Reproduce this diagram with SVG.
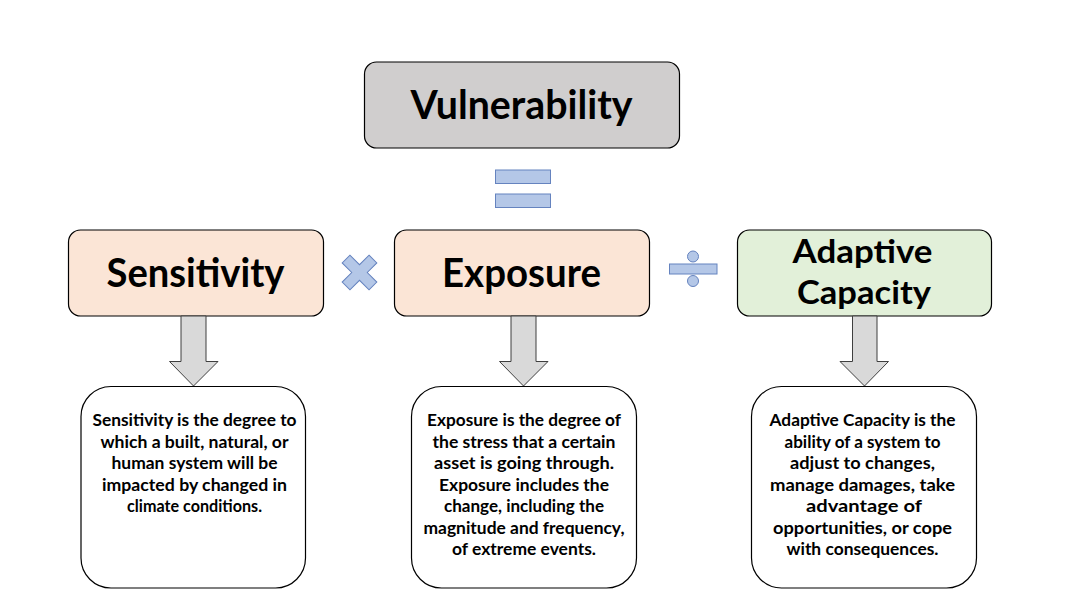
<svg xmlns="http://www.w3.org/2000/svg" width="1070" height="597" viewBox="0 0 1070 597">
<style>
.hd{font-family:Lato,"Liberation Sans",sans-serif;font-weight:bold;fill:#000;text-anchor:middle}
.bd{font-family:Lato,"Liberation Sans",sans-serif;font-weight:bold;font-size:17px;fill:#000;text-anchor:middle}
.top{stroke:#000;stroke-width:1.2}
.desc{fill:#fff;stroke:#000;stroke-width:1.2}
.op{fill:#b4c7e7;stroke:#6583bf;stroke-width:1}
.arr{fill:#d9d9d9;stroke:#3f3f3f;stroke-width:1}
</style>
<rect width="1070" height="597" fill="#fff"/>
<g id="vulnerability">
<rect class="top" x="364.5" y="62" width="315" height="86" rx="12" fill="#d0cece"/>
<text class="hd" x="521.5" y="118.5" font-size="41" textLength="222" lengthAdjust="spacingAndGlyphs">Vulnerability</text>
</g>
<g id="equals">
<rect class="op" x="495.5" y="170" width="55" height="13.5"/>
<rect class="op" x="495.5" y="194" width="55" height="13.5"/>
</g>
<g id="sensitivity">
<rect class="top" x="68.5" y="230" width="255" height="86" rx="12" fill="#fbe5d6"/>
<text class="hd" x="195.5" y="286.5" font-size="40" textLength="178" lengthAdjust="spacingAndGlyphs">Sensitivity</text>
</g>
<g id="times">
<polygon class="op" transform="translate(359.5 272.5) rotate(45)" points="-5.5,-19 5.5,-19 5.5,-5.5 19,-5.5 19,5.5 5.5,5.5 5.5,19 -5.5,19 -5.5,5.5 -19,5.5 -19,-5.5 -5.5,-5.5"/>
</g>
<g id="exposure">
<rect class="top" x="394.5" y="230" width="255" height="86" rx="12" fill="#fbe5d6"/>
<text class="hd" x="521.5" y="286.5" font-size="40" textLength="159" lengthAdjust="spacingAndGlyphs">Exposure</text>
</g>
<g id="divide">
<circle class="op" cx="693" cy="256.5" r="5.5"/>
<rect class="op" x="669.5" y="264" width="47.5" height="10"/>
<circle class="op" cx="693" cy="281" r="5.5"/>
</g>
<g id="adaptive-capacity">
<rect class="top" x="737.5" y="230" width="254" height="86" rx="12" fill="#e2f0d9"/>
<text class="hd" x="862.5" y="262.5" font-size="32" textLength="140" lengthAdjust="spacingAndGlyphs">Adaptive</text>
<text class="hd" x="864" y="304" font-size="32" textLength="134" lengthAdjust="spacingAndGlyphs">Capacity</text>
</g>
<g id="connectors">
<polygon class="arr" points="181,316 206,316 206,361.5 218,361.5 193.5,386 169.5,361.5 181,361.5"/>
<polygon class="arr" points="511,316 536,316 536,361.5 548,361.5 523.5,386 499.5,361.5 511,361.5"/>
<polygon class="arr" points="852.5,316 877,316 877,361.5 888.5,361.5 864.5,386 840,361.5 852.5,361.5"/>
</g>
<g id="sensitivity-desc">
<rect class="desc" x="81" y="386.5" width="224.5" height="201.5" rx="30"/>
<text class="bd" x="194.5" y="426" textLength="204" lengthAdjust="spacingAndGlyphs">Sensitivity is the degree to</text>
<text class="bd" x="194.5" y="447.5" textLength="188" lengthAdjust="spacingAndGlyphs">which a built, natural, or</text>
<text class="bd" x="194.5" y="469" textLength="166" lengthAdjust="spacingAndGlyphs">human system will be</text>
<text class="bd" x="194.5" y="490.5" textLength="185" lengthAdjust="spacingAndGlyphs">impacted by changed in</text>
<text class="bd" x="194.5" y="512" textLength="135" lengthAdjust="spacingAndGlyphs">climate conditions.</text>
</g>
<g id="exposure-desc">
<rect class="desc" x="411.5" y="386.5" width="225" height="201.5" rx="30"/>
<text class="bd" x="524" y="426" textLength="194" lengthAdjust="spacingAndGlyphs">Exposure is the degree of</text>
<text class="bd" x="524" y="447.5" textLength="183" lengthAdjust="spacingAndGlyphs">the stress that a certain</text>
<text class="bd" x="524" y="469" textLength="180" lengthAdjust="spacingAndGlyphs">asset is going through.</text>
<text class="bd" x="524" y="490.5" textLength="170" lengthAdjust="spacingAndGlyphs">Exposure includes the</text>
<text class="bd" x="524" y="512" textLength="160" lengthAdjust="spacingAndGlyphs">change, including the</text>
<text class="bd" x="524" y="533.5" textLength="201" lengthAdjust="spacingAndGlyphs">magnitude and frequency,</text>
<text class="bd" x="524" y="555" textLength="144" lengthAdjust="spacingAndGlyphs">of extreme events.</text>
</g>
<g id="adaptive-desc">
<rect class="desc" x="751.5" y="386.5" width="225" height="201.5" rx="30"/>
<text class="bd" x="862.5" y="426" textLength="186" lengthAdjust="spacingAndGlyphs">Adaptive Capacity is the</text>
<text class="bd" x="862.5" y="447.5" textLength="156" lengthAdjust="spacingAndGlyphs">ability of a system to</text>
<text class="bd" x="862.5" y="469" textLength="145" lengthAdjust="spacingAndGlyphs">adjust to changes,</text>
<text class="bd" x="862.5" y="490.5" textLength="185" lengthAdjust="spacingAndGlyphs">manage damages, take</text>
<text class="bd" x="864" y="512" textLength="116" lengthAdjust="spacingAndGlyphs">advantage of</text>
<text class="bd" x="862.5" y="533.5" textLength="179" lengthAdjust="spacingAndGlyphs">opportunities, or cope</text>
<text class="bd" x="862.5" y="555" textLength="152" lengthAdjust="spacingAndGlyphs">with consequences.</text>
</g>
</svg>
